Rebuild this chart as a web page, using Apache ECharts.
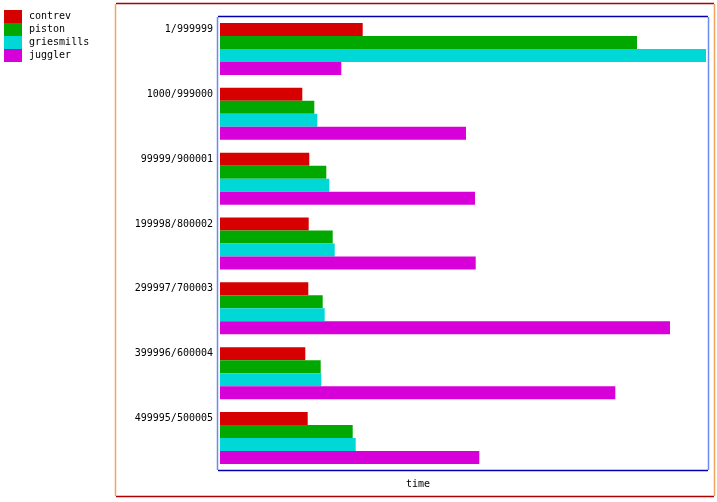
<!DOCTYPE html>
<html>
<head>
<meta charset="utf-8">
<script src="https://cdn.jsdelivr.net/npm/echarts@6/dist/echarts.min.js"></script>
<style>html,body{margin:0;padding:0;background:#fff;}#c{width:717px;height:502px;}</style>
</head>
<body>
<div id="c"></div>
<script>
var categories = ['1/999999','1000/999000','99999/900001','199998/800002','299997/700003','399996/600004','499995/500005'];
var seriesNames = ['contrev','piston','griesmills','juggler'];
var contrev    = [142.7, 82.3, 89.3, 88.7, 88.3, 85.3, 87.7];
var piston     = [417.0, 94.3, 106.3, 112.7, 102.7, 100.7, 132.7];
var griesmills = [486.0, 97.3, 109.3, 114.7, 104.7, 101.3, 135.7];
var juggler    = [121.3, 246.0, 255.0, 255.7, 450.0, 395.3, 259.3];
var xLabel = 'time';

var colors = ['#d60000','#00a800','#00d8d8','#d800d8'];
var values = [contrev, piston, griesmills, juggler];
var mono = 'DejaVu Sans Mono';

var chart = echarts.init(document.getElementById('c'), null, {renderer:'canvas'});
function vline(x, y1, y2, c){return {type:'line', shape:{x1:x,y1:y1,x2:x,y2:y2}, style:{stroke:c, lineWidth:1.5}, silent:true, z:10};}
function hline(y, x1, x2, c){return {type:'line', shape:{x1:x1,y1:y,x2:x2,y2:y}, style:{stroke:c, lineWidth:1.5}, silent:true, z:10};}
chart.setOption({
  animation:false,
  color: colors,
  legend:{
    orient:'vertical', left:4, top:10, padding:0, itemGap:0, itemWidth:18, itemHeight:13,
    icon:'rect', data:seriesNames,
    textStyle:{fontFamily:mono, fontSize:10, color:'#000', padding:[0,0,0,2]}
  },
  title:{text:xLabel, left:418, top:479, padding:0, textAlign:'center',
    textStyle:{fontFamily:mono, fontSize:10, fontWeight:'normal', color:'#000'}},
  grid:{left:220, right:8, top:16.5, bottom:31.5, containLabel:false},
  xAxis:{type:'value', min:0, max:489, show:false},
  yAxis:{type:'category', data:categories, inverse:true,
    axisLine:{show:false}, axisTick:{show:false}, splitLine:{show:false},
    axisLabel:{fontFamily:mono, fontSize:10, color:'#000', margin:7, lineHeight:13,
      formatter:function(v){return v + '\n\n\n';}}},
  series: seriesNames.map(function(n,i){return {name:n, type:'bar', data:values[i], barWidth:13, barGap:'0%', itemStyle:{color:colors[i]}};}),
  graphic:[
    hline(3.5, 116, 714, '#b00000'),
    hline(496.5, 116, 714, '#b00000'),
    vline(115.5, 4, 496, '#f4a460'),
    vline(714.5, 4, 496, '#f4a460'),
    hline(16.5, 218, 708, '#0000b0'),
    hline(470.5, 218, 708, '#0000b0'),
    vline(217.5, 17, 470, '#6a8cf0'),
    vline(708.5, 17, 470, '#6a8cf0')
  ]
});
</script>
</body>
</html>
